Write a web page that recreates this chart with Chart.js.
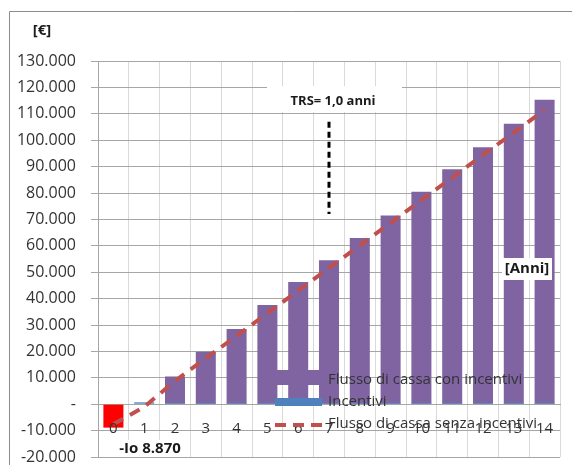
<!DOCTYPE html>
<html>
<head>
<meta charset="utf-8">
<script src="https://cdn.jsdelivr.net/npm/chart.js@4"></script>
<style>
  body { margin: 0; background: #fff; }
  #wrap { width: 572px; height: 465px; }
</style>
</head>
<body>
<div id="wrap"><canvas id="cashChart" width="572" height="465"></canvas></div>
<script>
// years on the x axis
const years = ["0", "1", "2", "3", "4", "5", "6", "7", "8", "9", "10", "11", "12", "13", "14"];

// values in euro
const investment = [-8870, null, null, null, null, null, null, null, null, null, null, null, null, null, null];
const withIncentives = [null, null, 10500, 19900, 28500, 37600, 46300, 54500, 63000, 71500, 80500, 89000, 97300, 106200, 115300];
const incentives = [null, 700, 500, 500, 500, 500, 500, 500, 500, 500, 500, 500, 500, 500, 500];
const withoutIncentives = [-7600, -1000, 8800, 17400, 25900, 34500, 43000, 51600, 60100, 68700, 77300, 85800, 94400, 102900, 111500];

const labelFont = "'Open Sans', sans-serif";

function euro(v) {
  if (v === 0) return "-";
  return String(v).replace(/\B(?=(\d{3})+(?!\d))/g, ".");
}

// legend, notes and frame drawn by hand, like the original sheet
const overlay = {
  id: "overlay",
  afterDraw(chart) {
    const ctx = chart.ctx;
    const x = chart.scales.x;
    const y = chart.scales.y;
    ctx.save();

    // outer frame
    ctx.strokeStyle = "#8c8c8c";
    ctx.lineWidth = 1;
    ctx.beginPath();
    ctx.moveTo(9.5, 470);
    ctx.lineTo(9.5, 11.5);
    ctx.lineTo(580, 11.5);
    ctx.stroke();

    // TRS marker
    const trsX = x.getPixelForValue(7);
    ctx.fillStyle = "#fff";
    ctx.fillRect(267, 86, 135, 26);
    ctx.strokeStyle = "#000";
    ctx.lineWidth = 3;
    ctx.setLineDash([6, 4]);
    ctx.beginPath();
    ctx.moveTo(trsX, y.getPixelForValue(107000));
    ctx.lineTo(trsX, y.getPixelForValue(72000));
    ctx.stroke();
    ctx.setLineDash([]);

    ctx.fillStyle = "#1a1a1a";
    ctx.textBaseline = "middle";
    ctx.textAlign = "center";
    ctx.font = "bold 13px " + labelFont;
    ctx.fillText("TRS= 1,0 anni", 333, 101);

    ctx.font = "bold 15px " + labelFont;
    ctx.fillText("[€]", 42, 31);

    ctx.fillStyle = "#fff";
    ctx.fillRect(502, 258, 50, 22);
    ctx.fillRect(116, 440, 70, 17);
    ctx.fillStyle = "#1a1a1a";
    ctx.fillText("[Anni]", 527, 269);
    ctx.fillText("-Io 8.870", 150, 449);

    // legend
    ctx.fillStyle = "#8064A2";
    ctx.fillRect(275, 370, 47, 15);
    ctx.fillStyle = "#4F81BD";
    ctx.fillRect(275, 398, 47, 8);
    ctx.strokeStyle = "#C0504D";
    ctx.lineWidth = 4;
    ctx.setLineDash([11, 7]);
    ctx.beginPath();
    ctx.moveTo(275, 425);
    ctx.lineTo(322, 425);
    ctx.stroke();
    ctx.setLineDash([]);

    ctx.fillStyle = "#333";
    ctx.textAlign = "left";
    ctx.font = "15px " + labelFont;
    ctx.fillText("Flusso di cassa con incentivi", 328, 380);
    ctx.fillText("Incentivi", 328, 402);
    ctx.fillText("Flusso di cassa senza incentivi", 328, 424);

    ctx.restore();
  }
};

const barStyle = { grouped: false, barPercentage: 0.65, categoryPercentage: 1.0, borderWidth: 0 };

new Chart(document.getElementById("cashChart").getContext("2d"), {
  data: {
    labels: years,
    datasets: [
      {
        type: "line",
        label: "Flusso di cassa senza incentivi",
        data: withoutIncentives,
        borderColor: "#C0504D",
        borderWidth: 4,
        borderDash: [11, 8],
        pointRadius: 0,
        tension: 0,
        order: 0
      },
      Object.assign({ type: "bar", label: "Incentivi", data: incentives, backgroundColor: "#4F81BD", order: 1 }, barStyle),
      Object.assign({ type: "bar", label: "Flusso di cassa con incentivi", data: withIncentives, backgroundColor: "#8064A2", order: 2 }, barStyle),
      Object.assign({ type: "bar", label: "Io", data: investment, backgroundColor: "#FF0000", order: 3 }, barStyle)
    ]
  },
  options: {
    responsive: false,
    animation: false,
    devicePixelRatio: 1,
    layout: { padding: { left: 0, top: 61, right: 12, bottom: 8 } },
    plugins: { legend: { display: false }, tooltip: { enabled: false } },
    scales: {
      x: {
        type: "category",
        position: { y: 0 },
        offset: true,
        grid: { offset: true, color: "#d9d9d9", drawTicks: false },
        border: { color: "#a6a6a6" },
        ticks: { z: 1, color: "#333", padding: 16, maxRotation: 0, autoSkip: false, font: { family: labelFont, size: 15 } }
      },
      y: {
        min: -20000,
        max: 130000,
        grid: { color: "#a6a6a6", tickLength: 7, tickColor: "#a6a6a6" },
        border: { color: "#a6a6a6" },
        ticks: {
          stepSize: 10000,
          padding: 15,
          color: "#333",
          font: { family: labelFont, size: 16, lineHeight: 1.0 },
          callback: v => euro(v)
        },
        afterFit: s => {
          s.width = 98;
          s.paddingTop = 8;
          s.paddingBottom = 8;
        }
      }
    }
  },
  plugins: [overlay]
});
</script>
</body>
</html>
